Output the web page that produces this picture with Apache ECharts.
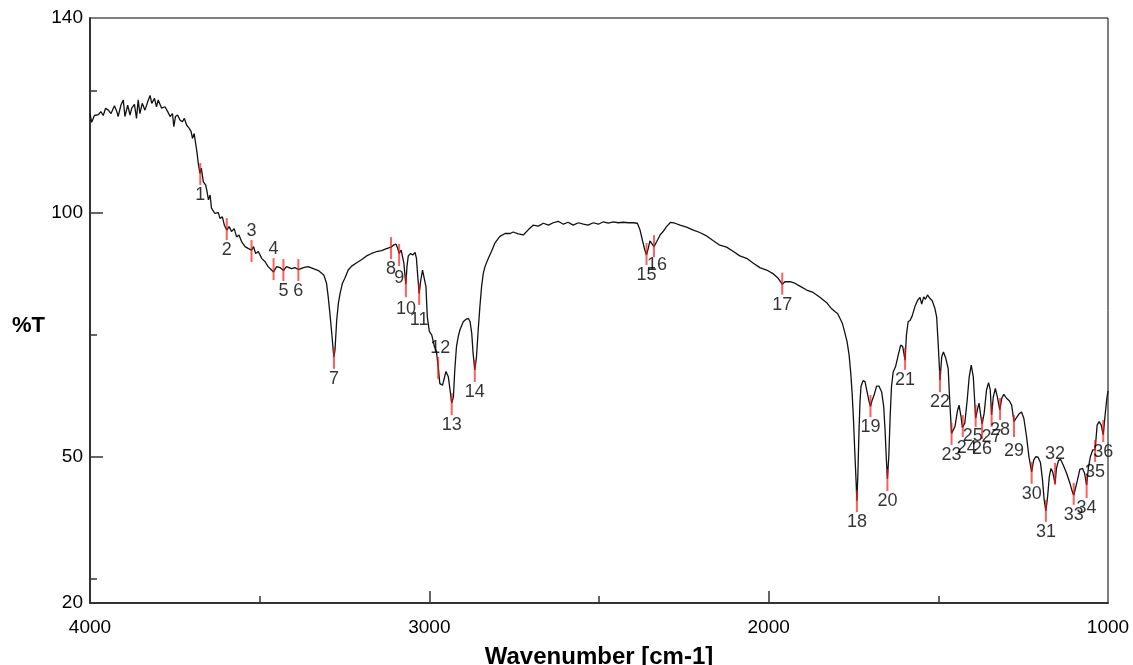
<!DOCTYPE html>
<html>
<head>
<meta charset="utf-8">
<script src="https://cdn.jsdelivr.net/npm/echarts@6/dist/echarts.min.js"></script>
<style>
  html, body { margin: 0; padding: 0; background: #fff; }
  #chart { width: 1133px; height: 665px; }
</style>
</head>
<body>
<div id="chart"></div>
<script>
// spectrum (cm-1 / %T)
var wavenumbers = [
  4000,3995,3987,3975,3968,3961,3954,3946,3938,3928,3921,3917,3909,3902,3897,3889,3882,3877,3869,3863,
  3858,3853,3846,3838,3830,3823,3818,3810,3804,3799,3789,3779,3771,3764,3757,3753,3748,3742,3735,3728,
  3722,3715,3708,3702,3698,3693,3689,3685,3681,3676,3672,3666,3659,3655,3651,3646,3642,3632,3622,3617,
  3610,3604,3597,3590,3583,3575,3568,3561,3553,3543,3533,3524,3518,3512,3504,3494,3484,3475,3465,3459,
  3450,3440,3430,3421,3406,3396,3386,3371,3357,3342,3327,3322,3311,3303,3298,3293,3288,3283,3281,3278,
  3273,3268,3263,3256,3249,3239,3229,3214,3200,3185,3170,3155,3141,3126,3113,3106,3098,3093,3089,3083,
  3079,3075,3071,3069,3066,3062,3055,3049,3042,3038,3034,3030,3025,3020,3015,3010,3006,3000,2993,2988,
  2985,2979,2974,2969,2961,2956,2951,2944,2939,2934,2929,2925,2920,2915,2910,2900,2892,2885,2880,2875,
  2871,2866,2861,2856,2851,2846,2841,2836,2826,2817,2807,2792,2777,2762,2753,2738,2723,2708,2694,2679,
  2664,2649,2635,2620,2605,2591,2576,2561,2546,2532,2517,2502,2487,2473,2458,2443,2428,2414,2399,2387,
  2379,2371,2365,2360,2355,2350,2345,2338,2330,2320,2311,2301,2289,2276,2261,2242,2222,2203,2183,2163,
  2144,2124,2104,2085,2065,2045,2026,2006,1986,1972,1960,1952,1937,1923,1908,1888,1869,1849,1829,1815,
  1805,1797,1790,1783,1775,1769,1763,1758,1754,1750,1746,1743,1740,1737,1734,1731,1728,1722,1716,1710,
  1704,1700,1695,1689,1682,1675,1667,1661,1657,1653,1650,1646,1642,1638,1633,1626,1618,1611,1605,1598,
  1594,1589,1583,1577,1569,1561,1554,1549,1543,1538,1532,1525,1518,1510,1505,1500,1495,1490,1485,1478,
  1471,1466,1461,1451,1444,1439,1433,1429,1422,1415,1409,1403,1397,1393,1390,1385,1380,1376,1371,1365,
  1358,1352,1347,1343,1338,1332,1326,1319,1313,1307,1299,1291,1284,1277,1269,1262,1255,1248,1240,1233,
  1225,1219,1213,1206,1199,1193,1188,1183,1178,1173,1168,1163,1156,1152,1146,1140,1132,1122,1112,1105,
  1101,1096,1090,1083,1075,1069,1063,1058,1052,1045,1040,1038,1032,1026,1020,1014,1009,1004,1000
]
var transmittance = [
  120.4,118.6,120.0,120.2,120.8,120.0,121.5,121.1,120.4,122.0,120.8,119.8,122.1,123.2,119.8,122.1,120.1,121.5,122.3,119.4,
  123.2,120.4,122.5,121.1,122.8,124.1,122.5,123.5,121.8,123.2,121.5,121.8,120.8,119.8,120.4,117.7,119.8,120.1,119.1,118.7,
  119.4,118.0,117.4,116.7,115.3,116.3,116.0,112.6,110.2,108.1,109.2,106.4,105.7,104.4,102.7,103.7,101.0,99.9,100.1,98.9,
  99.2,97.5,96.5,97.2,96.2,96.8,95.1,95.5,94.1,93.1,92.7,92.4,93.1,91.7,92.1,90.7,90.0,89.0,88.3,87.9,
  89.0,88.8,88.2,89.0,88.6,88.8,88.4,88.8,89.0,88.6,88.2,88.0,87.3,85.6,82.8,79.4,75.7,71.6,70.5,71.9,
  78.0,81.5,83.5,85.6,86.6,88.3,89.1,89.8,90.4,91.2,91.7,92.1,92.3,92.7,93.0,93.4,93.6,92.7,91.7,92.4,
  92.1,89.7,86.6,85.4,89.0,91.2,91.7,91.4,91.9,90.7,86.9,83.5,86.3,88.3,88.3,84.9,78.7,75.7,75.0,75.3,
  72.6,71.6,68.5,65.0,64.7,66.1,67.5,66.4,63.7,61.0,62.3,67.8,72.6,74.6,76.0,77.7,78.2,78.4,77.7,75.3,
  71.2,67.8,70.5,76.0,80.8,84.9,87.6,89.0,90.7,92.1,93.8,95.2,95.8,95.8,96.1,95.7,95.5,96.6,97.5,97.3,
  97.9,97.5,98.0,98.3,97.7,98.1,97.5,98.0,97.7,97.5,98.0,97.7,98.2,97.9,98.2,98.0,98.1,98.0,98.0,97.9,
  96.5,94.1,92.4,91.4,92.7,94.3,94.1,93.1,94.1,95.5,96.2,97.2,98.1,97.9,97.5,97.1,96.5,96.0,95.3,94.3,
  93.4,93.0,92.1,91.2,90.7,89.7,88.8,88.3,87.5,86.6,85.4,85.9,85.9,85.6,85.0,84.2,83.7,82.7,81.6,80.4,
  79.8,79.4,78.4,77.4,75.3,73.6,70.9,67.1,63.0,57.5,50.7,45.9,41.0,46.6,54.8,61.0,64.4,65.6,65.4,63.3,
  61.3,60.3,61.6,62.7,64.5,64.5,63.3,60.3,55.5,49.3,45.5,50.0,58.2,64.4,67.4,68.5,70.9,72.9,72.6,69.8,
  75.0,77.7,78.0,78.9,80.8,82.1,82.7,81.3,82.8,82.3,83.2,82.5,82.0,80.4,78.7,72.6,65.7,70.5,71.5,70.2,
  68.1,60.9,54.8,56.2,59.3,60.6,58.2,56.0,56.9,61.6,66.4,68.8,66.4,61.6,57.9,59.6,61.0,58.9,56.7,58.9,
  63.7,65.2,63.7,58.6,62.3,64.0,62.3,59.6,62.0,62.8,62.0,61.5,60.6,57.2,58.1,58.8,59.2,57.9,54.1,50.0,
  46.9,49.3,50.0,49.9,48.8,45.2,41.1,38.9,41.8,45.9,47.6,46.9,44.5,47.6,49.2,49.5,48.3,46.6,44.5,42.8,
  42.1,42.5,45.2,47.4,47.6,46.6,44.2,47.6,50.0,51.4,51.7,51.4,56.5,57.2,56.5,54.5,58.2,61.6,63.5
]

// picked peaks
var peakNumbers = [1,2,3,4,5,6,7,8,9,10,11,12,13,14,15,16,17,18,19,20,21,22,23,24,25,26,27,28,29,30,31,32,33,34,35,36]
var peakWavenumbers = [3675,3597,3524,3459,3430,3386,3281,3113,3089,3069,3030,2974,2934,2866,2360,2338,1960,1740,1700,1650,
  1598,1495,1461,1428,1390,1371,1343,1318,1277,1225,1183,1156,1101,1063,1038,1014]
var peakTransmittance = [108.2,96.9,92.4,88.7,88.5,88.5,70.5,93.0,91.6,85.2,83.6,68.4,61.0,67.8,91.8,93.4,85.7,41.1,60.6,45.4,
  70.3,65.7,54.9,56.5,58.6,56.1,58.6,60.0,56.5,46.9,39.1,46.7,42.6,44.0,51.4,55.5]

var yLabelValues = [20, 50, 100, 140]
var xLabelValues = [4000, 3000, 2000, 1000]

// layout of the peak numbers
var labelAbove = [3, 4, 12, 32]
var labelNudge = { 9: [0, 2], 10: [0, 2], 11: [0, 5], 12: [2, 0], 16: [3, -2], 24: [4, 1], 25: [-3, -1], 29: [0, 4] }

var spectrum = wavenumbers.map(function (w, i) { return [w, transmittance[i]] })

var peaks = peakNumbers.map(function (n, i) {
  var above = labelAbove.indexOf(n) >= 0
  return {
    value: [peakWavenumbers[i], peakTransmittance[i]],
    name: String(n),
    label: {
      position: above ? 'top' : 'bottom',
      distance: above ? 0 : 1,
      offset: labelNudge[n] || [0, 0]
    }
  }
})

var font = 'Liberation Sans, Arial, Helvetica, sans-serif'

var myChart = echarts.init(document.getElementById('chart'))
myChart.setOption({
  backgroundColor: '#fff',
  animation: false,
  grid: {
    left: 90, right: 25, top: 18, bottom: 62,
    outerBoundsMode: 'none', containLabel: false,
    show: true, borderColor: '#000', borderWidth: 1
  },
  graphic: [{
    type: 'text', left: 12, top: 315,
    style: { text: '%T', font: 'bold 22px ' + font, fill: '#000' }
  }],
  xAxis: [{
    type: 'value', min: 1000, max: 4000, inverse: true,
    name: 'Wavenumber [cm-1]', nameLocation: 'middle', nameGap: 42,
    nameTextStyle: { fontFamily: font, fontWeight: 'bold', fontSize: 24, color: '#000' },
    axisLine: { show: true, onZero: false, lineStyle: { color: '#333', width: 2 } },
    axisTick: { show: true, inside: true, length: 12, customValues: [3000, 2000], lineStyle: { color: '#333', width: 1.5 } },
    axisLabel: { customValues: xLabelValues, formatter: function (v) { return String(v) }, margin: 15, fontFamily: font, fontSize: 19, color: '#000' },
    splitLine: { show: false }
  }, {
    type: 'value', min: 1000, max: 4000, inverse: true, position: 'bottom',
    axisLine: { show: false },
    axisTick: { show: true, inside: true, length: 7, customValues: [3500, 2500, 1500], lineStyle: { color: '#333', width: 1.5 } },
    axisLabel: { show: false },
    splitLine: { show: false }
  }],
  yAxis: [{
    type: 'value', min: 20, max: 140,
    axisLine: { show: true, onZero: false, lineStyle: { color: '#333', width: 2 } },
    axisTick: { show: true, inside: true, length: 13, customValues: [50, 100], lineStyle: { color: '#333', width: 1.5 } },
    axisLabel: { customValues: yLabelValues, margin: 7, fontFamily: font, fontSize: 19, color: '#000' },
    splitLine: { show: false }
  }, {
    type: 'value', min: 20, max: 140, position: 'left',
    axisLine: { show: false },
    axisTick: { show: true, inside: true, length: 7, customValues: [25, 75, 125], lineStyle: { color: '#333', width: 1.5 } },
    axisLabel: { show: false },
    splitLine: { show: false }
  }],
  series: [{
    type: 'line',
    data: spectrum,
    showSymbol: false,
    lineStyle: { color: '#111', width: 1.3 },
    z: 2
  }, {
    type: 'scatter',
    data: peaks,
    symbol: 'rect',
    symbolSize: [2, 22],
    symbolOffset: [0, 1],
    itemStyle: { color: 'rgba(255,20,20,0.85)' },
    label: {
      show: true,
      formatter: function (p) { return p.name },
      fontFamily: font, fontSize: 18, color: '#000'
    },
    z: 3
  }]
})
</script>
</body>
</html>
